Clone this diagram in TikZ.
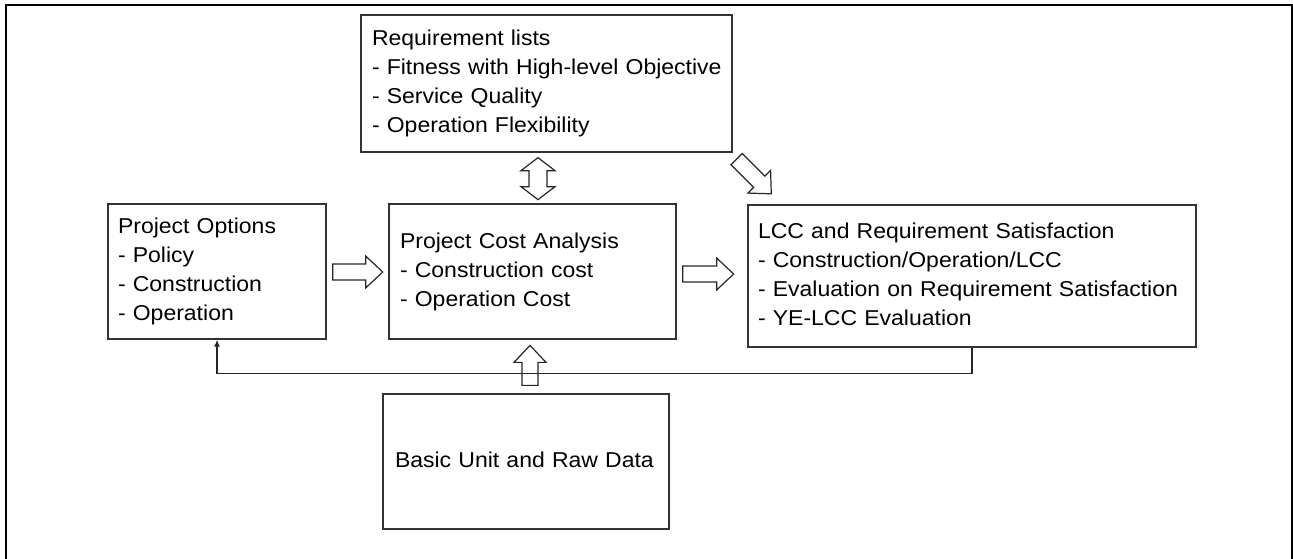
\documentclass[tikz,border=0pt]{standalone}
\usepackage{fontspec}
\setmainfont{Liberation Sans}[FakeStretch=1.07]
\usetikzlibrary{calc,arrows.meta}
\newcommand\boxlines[1]{\begin{tabular}{@{}l@{}}#1\end{tabular}}
\tikzset{
  box/.style={draw=black!80, line width=1.3pt, rectangle, align=left, inner xsep=10pt, inner ysep=0pt,
    font=\fontsize{21.5}{29}\selectfont, anchor=center},
  blk/.style={draw=black!85, line width=1.2pt, line join=miter},
  fb/.style={draw=black!85, line width=1.3pt},
  frame/.style={draw=black, line width=2pt},
  pics/barrow/.style={code={\draw[blk] (0,-8) -- (#1,-8) -- (#1,-16) -- ({#1+17},0) -- (#1,16) -- (#1,8) -- (0,8) -- cycle;}},
  pics/dbarrow/.style={code={\draw[blk] (0,0) -- (13,-17) -- (13,-9) -- (29,-9) -- (29,-17) -- (42,0) -- (29,17) -- (29,9) -- (13,9) -- (13,17) -- cycle;}},
}
\begin{document}
\begin{tikzpicture}[x=1pt,y=-1pt]
\useasboundingbox (0,0) rectangle (1293,558);
\draw[frame] (6,575) -- (6,5) -- (1292,5) -- (1292,575);

\node[box, text width=349pt, inner xsep=11pt, minimum height=137pt] (req) at (546.5,83.5)
  {\boxlines{Requirement lists\\- Fitness with High-level Objective\\- Service Quality\\- Operation Flexibility}};
\node[box, text width=198pt, minimum height=135pt] (opt) at (217,271.5)
  {\boxlines{Project Options\\- Policy\\- Construction\\- Operation}};
\node[box, text width=265pt, inner xsep=11pt, minimum height=135pt] (cost) at (532.5,271.5)
  {\boxlines{Project Cost Analysis\\- Construction cost\\- Operation Cost}};
\node[box, text width=428pt, minimum height=142pt] (lcc) at (972,276)
  {\boxlines{LCC and Requirement Satisfaction\\- Construction/Operation/LCC\\- Evaluation on Requirement Satisfaction\\- YE-LCC Evaluation}};
\node[box, text width=262pt, inner xsep=12pt, minimum height=135pt] (basic) at (526,461.5)
  {\boxlines{Basic Unit and Raw Data}};

\draw[fb, -{Latex[length=7pt,width=6pt]}] (lcc.south) -- ++(0,26) -| (opt.south);

\pic at ($(opt.east)+(6,0.5)$) {barrow=33};
\pic at ($(cost.east)+(6,2.5)$) {barrow=34};
\pic[rotate=90] at ($(basic.north)+(4,-8)$) {barrow=23};
\pic[rotate=-45] at ($(req.south east)+(4,6.5)$) {barrow=32};
\pic[rotate=-90] at ($(req.south)+(-8.5,5)$) {dbarrow};
\end{tikzpicture}
\end{document}
